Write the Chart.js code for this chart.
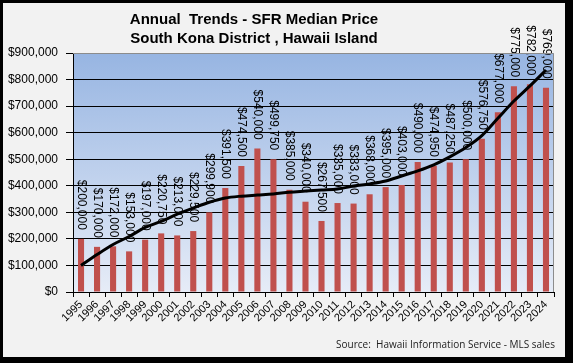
<!DOCTYPE html>
<html><head><meta charset="utf-8">
<script src="https://cdn.jsdelivr.net/npm/chart.js@4"></script>
<style>
html,body{margin:0;padding:0;background:#000;width:573px;height:363px;overflow:hidden}
#wrap{position:absolute;left:3px;top:3px;width:562px;height:354px;background:#f2f2f2}
canvas{display:block}
</style></head><body>
<div id="wrap"><canvas id="c" width="562" height="354"></canvas></div>
<script>
const years = ["1995","1996","1997","1998","1999","2000","2001","2002","2003","2004","2005","2006","2007","2008","2009","2010","2011","2012","2013","2014","2015","2016","2017","2018","2019","2020","2021","2022","2023","2024"];
const medianPrice = [200000,170000,172000,153000,197000,220750,213000,229500,299900,391500,474500,540000,499750,385000,340000,267500,335000,333000,368000,395000,403000,490000,474950,487250,500000,576750,677000,775000,782000,769000];
const trendLine = [100000,141000,179000,209000,243000,266000,293000,316000,338000,354000,361000,365000,369000,376000,380000,384000,388000,399000,407000,418000,437000,456000,479000,509000,544000,589000,654000,719000,776000,836000];
const yMax = 900000;
const yStep = 100000;
const titleLines = ["Annual  Trends - SFR Median Price", "South Kona District , Hawaii Island"];
const sourceNote = "Source:  Hawaii Information Service - MLS sales";

const money = v => '$' + Number(v).toLocaleString('en-US');
const FONT = '"Liberation Sans", Arial, sans-serif';

const decor = {
  id: 'decor',
  beforeDraw(chart) {
    const {ctx, chartArea: a} = chart;
    const g = ctx.createLinearGradient(0, a.top, 0, a.bottom);
    g.addColorStop(0, '#97b5e2');
    g.addColorStop(1, '#e6ecf7');
    ctx.save();
    ctx.fillStyle = g;
    ctx.fillRect(a.left, a.top, a.right - a.left, a.bottom - a.top);
    ctx.restore();
  },
  afterDatasetDraw(chart, args) {
    if (args.index !== 0) return;
    const {ctx} = chart;
    ctx.save();
    ctx.font = '12px ' + FONT;
    ctx.fillStyle = '#000';
    ctx.textAlign = 'right';
    ctx.textBaseline = 'middle';
    args.meta.data.forEach((bar, i) => {
      ctx.save();
      ctx.translate(bar.x, bar.y - 9);
      ctx.rotate(Math.PI / 2);
      ctx.fillText(money(medianPrice[i]), 0, 0);
      ctx.restore();
    });
    ctx.restore();
  },
  afterDraw(chart) {
    const {ctx, chartArea: a} = chart;
    ctx.save();
    ctx.strokeStyle = '#8c8c8c';
    ctx.lineWidth = 1;
    ctx.beginPath();
    ctx.moveTo(a.left, a.top + 0.5);
    ctx.lineTo(a.right - 0.5, a.top + 0.5);
    ctx.lineTo(a.right - 0.5, a.bottom);
    ctx.stroke();
    ctx.fillStyle = '#000';
    ctx.textAlign = 'center';
    ctx.textBaseline = 'middle';
    ctx.font = 'bold 15px ' + FONT;
    ctx.fillText(titleLines[0], 251, 17);
    ctx.fillText(titleLines[1], 251, 36);
    ctx.font = '10px "Open Sans", sans-serif';
    ctx.fillStyle = '#222';
    ctx.textAlign = 'right';
    ctx.fillText(sourceNote, 552, 342);
    ctx.restore();
  }
};

new Chart(document.getElementById('c'), {
  data: {
    labels: years,
    datasets: [
      {type: 'bar', data: medianPrice, backgroundColor: '#c0504d', borderWidth: 0,
       categoryPercentage: 1, barPercentage: 0.38, order: 2},
      {type: 'line', data: trendLine, borderColor: '#000', borderWidth: 3, pointRadius: 0,
       tension: 0.4, cubicInterpolationMode: 'monotone', fill: false, order: 1}
    ]
  },
  options: {
    responsive: false, animation: false, devicePixelRatio: 1,
    layout: {padding: {top: 50, right: 11, left: 0, bottom: 0}},
    plugins: {legend: {display: false}, tooltip: {enabled: false}, title: {display: false}},
    scales: {
      x: {
        offset: true,
        grid: {display: true, drawOnChartArea: false, drawTicks: true, tickLength: 5, color: '#000', offset: true},
        border: {color: '#000', width: 1},
        ticks: {color: '#000', font: {family: FONT, size: 11}, minRotation: 45, maxRotation: 45, padding: 1, autoSkip: false},
        afterFit(s) { s.height = 65; }
      },
      y: {
        min: 0, max: yMax,
        grid: {color: c => c.tick && c.tick.value === yMax ? 'rgba(0,0,0,0)' : '#000', tickColor: '#000', tickLength: 7, lineWidth: 1},
        border: {color: '#000', width: 1},
        ticks: {stepSize: yStep, color: '#000', font: {family: FONT, size: 12}, padding: 8, callback: v => money(v)},
        afterFit(s) { s.width = 70; }
      }
    }
  },
  plugins: [decor]
});
</script>
</body></html>
